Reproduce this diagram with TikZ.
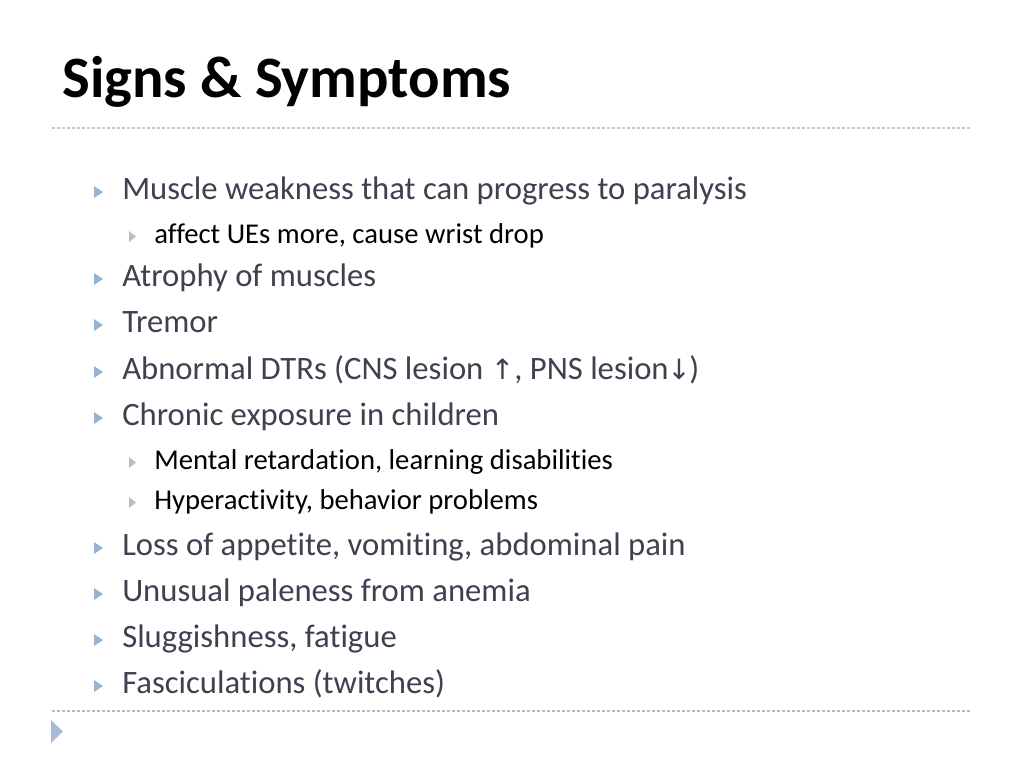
\documentclass[tikz,border=0pt]{standalone}
\usepackage{fontspec}
\setmainfont{Carlito}[Ligatures=NoCommon]
\newfontfamily\arrowfont{DejaVu Sans}
\usepackage{tikz}
\usetikzlibrary{positioning}
\definecolor{slidetext}{HTML}{404050}
\definecolor{bulblue}{HTML}{95B3D7}
\definecolor{bulgray}{HTML}{BCBCBC}
\definecolor{topline}{HTML}{C4C8CE}
\definecolor{footline}{HTML}{A9BCD3}

\tikzset{
  title/.style   = {anchor=base west, inner sep=0pt, font=\fontsize{44}{48}\selectfont\bfseries},
  itemA/.style   = {anchor=base west, inner sep=0pt, text=slidetext, font=\fontsize{24.5}{28}\selectfont},
  itemB/.style   = {anchor=base west, inner sep=0pt, text=black, font=\fontsize{21.5}{24}\selectfont},
  rulerA/.style  = {topline, line width=1pt, dash pattern=on 2.25pt off 1.5pt},
  rulerB/.style  = {footline, line width=1pt, dash pattern=on 2.25pt off 1.5pt}
}

\begin{document}
\begin{tikzpicture}[x=0.75pt, y=-0.75pt]
        \useasboundingbox (0, 0) rectangle (1024, 768);

        \node[title] (t) at (62, 97)   {Signs \& Symptoms};
        \coordinate (r1) at (52, 128);
        \coordinate (r2) at (972, 128);
        \draw[rulerA] (r1) -- (r2);

        \node[itemA] (1)  at (122, 199)  {Muscle weakness that can progress to paralysis};
        \node[itemB] (1a) at (154, 243)  {affect UEs more, cause wrist drop};
        \node[itemA] (2)  at (122, 286)  {Atrophy of muscles};
        \node[itemA] (3)  at (122, 332)  {Tremor};
        \node[itemA] (4)  at (122, 379)  {Abnormal DTRs (CNS lesion {\arrowfont\fontsize{21}{24}\selectfont ↑}, PNS lesion{\arrowfont\fontsize{21}{24}\selectfont\kern-1pt↓\kern-1pt})};
        \node[itemA] (5)  at (122, 425)  {Chronic exposure in children};
        \node[itemB] (5a) at (154, 469)  {Mental retardation, learning disabilities};
        \node[itemB] (5b) at (154, 509)  {Hyperactivity, behavior problems};
        \node[itemA] (6)  at (122, 555)  {Loss of appetite, vomiting, abdominal pain};
        \node[itemA] (7)  at (122, 601)  {Unusual paleness from anemia};
        \node[itemA] (8)  at (122, 647)  {Sluggishness, fatigue};
        \node[itemA] (9)  at (122, 693)  {Fasciculations (twitches)};

        % bullets
        \foreach \i in {1,2,3,4,5,6,7,8,9}
          \fill[bulblue] (\i.base west) ++(-28, -13) -- ++(0, 12) -- ++(9, -6) -- cycle;
        \foreach \i in {1a,5a,5b}
          \fill[bulgray] (\i.base west) ++(-25, -12) -- ++(0, 11) -- ++(7, -5.5) -- cycle;

        \coordinate (r3) at (52, 711);
        \coordinate (r4) at (972, 711);
        \draw[rulerB] (r3) -- (r4);
        \fill[footline] (51, 720) -- (51, 743) -- (63, 731.5) -- cycle;
      \end{tikzpicture}
\end{document}
